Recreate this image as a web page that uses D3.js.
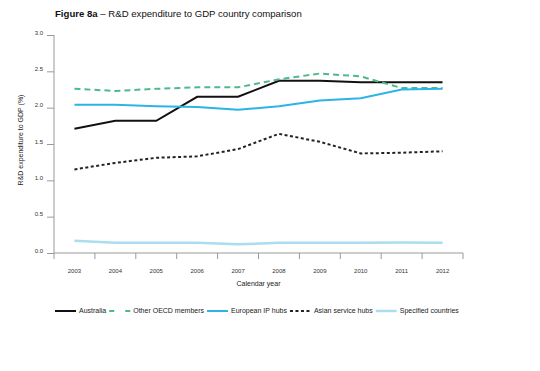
<!DOCTYPE html>
<html>
<head>
<meta charset="utf-8">
<script src="https://cdn.jsdelivr.net/npm/d3@7"></script>
<style>
  body { margin: 0; background: #fff; }
  text { font-family: "Liberation Sans", Arial, sans-serif; }
</style>
</head>
<body>
<svg width="540" height="371"></svg>
<script>
// Years on the x axis
var years = ["2003", "2004", "2005", "2006", "2007", "2008", "2009", "2010", "2011", "2012"];

// R&D expenditure to GDP (%) per series
var australia = [1.71, 1.82, 1.82, 2.15, 2.15, 2.37, 2.37, 2.35, 2.35, 2.35];
var otherOecd = [2.26, 2.23, 2.26, 2.28, 2.28, 2.39, 2.47, 2.43, 2.27, 2.27];
var europeanIp = [2.04, 2.04, 2.02, 2.01, 1.97, 2.02, 2.10, 2.13, 2.25, 2.26];
var asianHubs = [1.15, 1.24, 1.31, 1.33, 1.43, 1.64, 1.53, 1.37, 1.38, 1.40];
var specified = [0.17, 0.14, 0.14, 0.14, 0.12, 0.14, 0.14, 0.14, 0.145, 0.14];

var yTicks = [0, 0.5, 1, 1.5, 2, 2.5, 3];

var series = [
  { name: "Australia", values: australia, color: "#111", width: 2, dash: null },
  { name: "Other OECD members", values: otherOecd, color: "#4dba8c", width: 2, dash: "6,4" },
  { name: "European IP hubs", values: europeanIp, color: "#2cb4e6", width: 2, dash: null },
  { name: "Asian service hubs", values: asianHubs, color: "#222", width: 2, dash: "3,2.5" },
  { name: "Specified countries", values: specified, color: "#a9ddef", width: 2.5, dash: null }
];

var svg = d3.select("svg");
var plotLeft = 54, plotRight = 463, plotTop = 35, plotBottom = 253;

var x = d3.scaleBand().domain(years).range([plotLeft, plotRight]);
var y = d3.scaleLinear().domain([0, 3]).range([plotBottom, plotTop]);

// Title
var title = svg.append("text").attr("x", 55).attr("y", 17).style("font-size", "9.6px").attr("fill", "#111");
title.append("tspan").style("font-weight", "bold").text("Figure 8a");
title.append("tspan").text(" – R&D expenditure to GDP country comparison");

// Y axis
var yAxis = svg.append("g")
  .attr("transform", "translate(" + plotLeft + ",0)")
  .call(d3.axisLeft(y).tickValues(yTicks).tickFormat(d3.format(".1f")).tickSize(7).tickPadding(4));
yAxis.select(".domain").attr("stroke", "#999").attr("d", "M0," + plotBottom + "V" + plotTop);
yAxis.selectAll(".tick line").attr("stroke", "#999");
yAxis.selectAll(".tick text").style("font-size", "6px").attr("fill", "#333").attr("dy", "-0.15em");

// X axis
var xAxis = svg.append("g")
  .attr("transform", "translate(0," + plotBottom + ")")
  .call(d3.axisBottom(x).tickSize(0).tickPadding(16));
xAxis.select(".domain").attr("stroke", "#999").attr("d", "M" + plotLeft + ",0H" + plotRight);
xAxis.selectAll(".tick text").style("font-size", "6px").attr("fill", "#333");
// tick marks at band edges
xAxis.selectAll(".edge")
  .data(years.map(function (d) { return x(d); }).concat([plotRight]))
  .enter()
  .append("line")
  .attr("x1", function (d) { return d; })
  .attr("x2", function (d) { return d; })
  .attr("y1", 0)
  .attr("y2", 6)
  .attr("stroke", "#999");

// Axis titles
svg.append("text")
  .attr("x", (plotLeft + plotRight) / 2)
  .attr("y", 286)
  .attr("text-anchor", "middle")
  .style("font-size", "7px")
  .attr("fill", "#222")
  .text("Calendar year");

svg.append("text")
  .attr("transform", "translate(23,140) rotate(-90)")
  .attr("text-anchor", "middle")
  .style("font-size", "7px")
  .attr("fill", "#222")
  .text("R&D expenditure to GDP (%)");

// Lines
var line = d3.line()
  .x(function (d, i) { return x(years[i]) + x.bandwidth() / 2; })
  .y(function (d) { return y(d); });

series.forEach(function (s) {
  svg.append("path")
    .datum(s.values)
    .attr("fill", "none")
    .attr("stroke", s.color)
    .attr("stroke-width", s.width)
    .attr("stroke-dasharray", s.dash)
    .attr("d", line);
});

// Legend
var legend = svg.append("g").attr("transform", "translate(55,311)");
var lx = 0;
series.forEach(function (s) {
  legend.append("line")
    .attr("x1", lx).attr("x2", lx + 21)
    .attr("y1", 0).attr("y2", 0)
    .attr("stroke", s.color)
    .attr("stroke-width", s.width)
    .attr("stroke-dasharray", s.name === "Other OECD members" ? "5,11" : s.dash);
  var t = legend.append("text")
    .attr("x", lx + 24)
    .attr("y", 2.4)
    .style("font-size", "7px")
    .attr("fill", "#222")
    .text(s.name);
  lx += 24 + t.node().getComputedTextLength() + 3;
});
</script>
</body>
</html>
